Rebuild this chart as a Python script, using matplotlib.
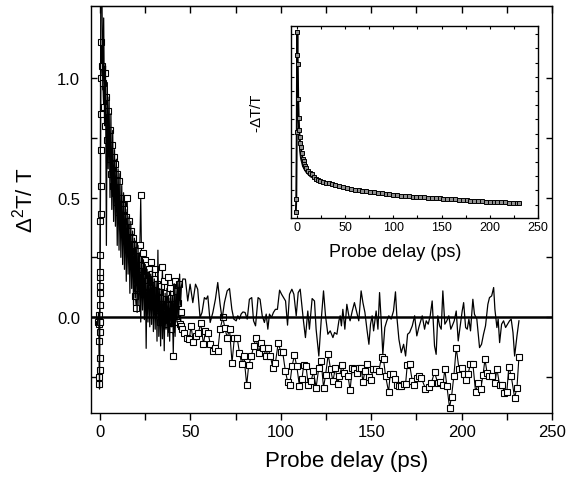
# Two-colour pump-probe trace: differential signal vs probe delay, with the
# single-colour -dT/T transient shown as an inset
import numpy as np
import matplotlib.pyplot as plt

plt.rcParams['font.family'] = ['Liberation Sans', 'DejaVu Sans']
plt.rcParams['mathtext.fontset'] = 'custom'
plt.rcParams['mathtext.rm'] = 'Liberation Sans'
plt.rcParams['mathtext.it'] = 'Liberation Sans'

# open squares series (delay in ps, signal)
sq_t = [-1.0, -0.8, -0.6, -0.5, -0.4, -0.35, -0.3, -0.25, -0.2, -0.15, -0.1, -0.05,
        0.0, 0.05, 0.1, 0.15, 0.2, 0.25, 0.3, 0.35, 0.4, 0.45,
        0.5, 1.0, 1.5, 2.0, 2.5, 3.0, 3.5, 4.0, 4.5, 5.0, 5.5, 6.0, 6.5, 7.0, 7.5,
        8.0, 8.5, 9.0, 9.5, 10.0, 10.5, 11.0, 11.5, 12.0, 12.5, 13.0, 13.5, 14.0,
        14.5, 15.0, 15.5, 16.0, 16.5, 17.0, 17.5, 18.0, 18.5, 19.0, 19.5, 20.0,
        20.5, 21.0, 21.5, 22.0, 22.5, 23.0, 23.5, 24.0, 24.5, 25.0, 25.5, 26.0,
        26.5, 27.0, 27.5, 28.0, 28.5, 29.0, 29.5, 30.0, 30.5, 31.0, 31.5, 32.0,
        32.5, 33.0, 33.5, 34.0, 34.5, 35.0, 35.5, 36.0, 36.5, 37.0, 37.5, 38.0,
        38.5, 39.0, 39.5, 40.0, 40.5, 41.0, 41.5, 42.0, 42.5, 43.0, 43.5, 44.0,
        44.5, 44.8, 45.4, 46.6, 47.9, 49.4, 50.3, 51.6, 53.1, 54.4, 55.7, 57.2,
        58.3, 59.7, 61.0, 62.3, 63.8, 65.1, 66.4, 67.9, 69.0, 70.3, 71.6, 73.0,
        74.3, 75.8, 77.1, 78.4, 79.6, 81.1, 82.2, 83.7, 85.0, 86.3, 87.8, 89.1,
        90.3, 91.8, 92.9, 94.2, 95.5, 97.0, 98.5, 100.1, 101.0, 102.5, 103.8,
        104.9, 106.2, 107.5, 108.8, 110.3, 111.7, 112.6, 113.9, 115.2, 116.8,
        118.0, 119.5, 121.0, 122.3, 123.6, 124.7, 126.2, 127.5, 128.8, 130.2,
        131.5, 132.4, 133.9, 135.0, 137.1, 138.3, 139.5, 140.7, 142.0, 143.1,
        144.4, 145.4, 146.5, 147.8, 148.7, 149.6, 151.1, 152.7, 154.2, 155.7,
        156.8, 157.9, 159.6, 160.5, 162.0, 163.1, 164.2, 165.3, 166.6, 167.9,
        169.0, 169.9, 171.2, 172.7, 173.9, 175.2, 176.3, 177.6, 180.0, 181.9,
        183.3, 185.0, 186.8, 188.1, 189.6, 190.7, 191.8, 193.3, 194.4, 195.7,
        197.0, 198.5, 200.0, 201.2, 202.5, 203.6, 204.7, 206.2, 207.7, 209.2,
        210.5, 211.8, 212.9, 214.1, 215.4, 216.9, 218.4, 219.5, 221.0, 222.5,
        223.6, 225.0, 226.1, 227.4, 229.3, 230.6, 231.7]
sq_v = [-0.02, 0.01, -0.03, -0.10, -0.25, -0.28, -0.22, -0.17, -0.06, -0.02, 0.05, 0.10,
        0.13, 0.17, 0.19, 0.26, 0.40, 0.43, 0.55, 0.70, 0.85, 1.00,
        1.15, 1.05, 0.98, 0.88, 1.02, 0.80, 0.92, 0.74, 0.86, 0.66, 0.78, 0.60, 0.72, 0.55, 0.67,
        0.52, 0.64, 0.48, 0.60, 0.44, 0.57, 0.42, 0.50, 0.38, 0.47, 0.36, 0.45, 0.33,
        0.42, 0.50, 0.30, 0.40, 0.27, 0.36, 0.25, 0.33, 0.22, 0.30, 0.09, 0.04,
        0.12, 0.28, 0.20, 0.30, 0.51, 0.22, 0.17, 0.27, 0.15, 0.24, 0.13, 0.22,
        0.10, 0.20, 0.12, 0.23, 0.08, 0.18, 0.05, 0.16, 0.20, 0.06, 0.14, 0.03,
        0.11, -0.02, 0.13, 0.08, 0.21, 0.02, 0.15, -0.03, 0.10, 0.05, 0.17, -0.01,
        0.12, -0.05, 0.08, 0.02, -0.16, 0.04, 0.15, 0.11, -0.02, 0.06, 0.14, -0.03,
        0.02, -0.036, -0.050, -0.064, -0.085, -0.092, -0.036, -0.103, -0.078, -0.064, -0.026, -0.113,
        -0.057, -0.064, -0.113, -0.141, -0.127, -0.141, -0.050, -0.001, -0.043, -0.085, -0.050, -0.190,
        -0.085, -0.085, -0.148, -0.197, -0.162, -0.284, -0.201, -0.162, -0.120, -0.085, -0.148, -0.106,
        -0.127, -0.162, -0.130, -0.162, -0.211, -0.190, -0.109, -0.145, -0.145, -0.225, -0.271,
        -0.283, -0.204, -0.159, -0.204, -0.288, -0.257, -0.201, -0.204, -0.284, -0.266,
        -0.225, -0.294, -0.211, -0.183, -0.294, -0.243, -0.155, -0.218, -0.266, -0.211,
        -0.280, -0.245, -0.201, -0.232, -0.245, -0.304, -0.212, -0.215, -0.234, -0.212,
        -0.212, -0.270, -0.225, -0.197, -0.250, -0.262, -0.215, -0.218, -0.225, -0.165,
        -0.176, -0.245, -0.312, -0.236, -0.238, -0.259, -0.284, -0.287, -0.287, -0.280,
        -0.278, -0.201, -0.197, -0.266, -0.284, -0.252, -0.245, -0.252, -0.298, -0.290,
        -0.273, -0.229, -0.276, -0.270, -0.284, -0.218, -0.287, -0.378, -0.332, -0.245,
        -0.127, -0.215, -0.211, -0.238, -0.262, -0.238, -0.197, -0.194, -0.312, -0.273,
        -0.301, -0.243, -0.176, -0.234, -0.245, -0.245, -0.276, -0.215, -0.284, -0.284,
        -0.315, -0.312, -0.206, -0.245, -0.336, -0.294, -0.165]

# solid line series
ln_t = [-1.0, -0.8, -0.6, -0.4, -0.3, -0.2, -0.1, 0.0, 0.1, 0.2, 0.3, 0.4, 0.5,
        1.0, 1.5, 2.0, 2.5, 3.0, 3.5, 4.0, 4.5, 5.0, 5.5, 6.0, 6.5, 7.0, 7.5, 8.0,
        8.5, 9.0, 9.5, 10.0, 10.5, 11.0, 11.5, 12.0, 12.5, 13.0, 13.5, 14.0, 14.5, 15.0,
        15.5, 16.0, 16.5, 17.0, 17.5, 18.0, 18.5, 19.0, 19.5, 20.0, 20.5, 21.0, 21.5,
        22.0, 22.5, 23.0, 23.5, 24.0, 24.5, 25.0, 25.5, 26.0, 26.5, 27.0, 27.5, 28.0,
        28.5, 29.0, 29.5, 30.0, 30.5, 31.0, 31.5, 32.0, 32.5, 33.0, 33.5, 34.0, 34.5,
        35.0, 35.5, 36.0, 36.5, 37.0, 37.5, 38.0, 38.5, 39.0, 39.5, 40.0, 40.5, 41.0,
        41.5, 42.0, 42.5, 43.0, 43.5, 44.0, 44.5, 45.0,
        45.8, 47.2, 48.5, 49.8, 51.3, 52.8, 54.0, 55.3, 56.4, 57.7, 58.7,
        59.6, 60.9, 62.4, 63.8, 65.1, 66.4, 67.5, 68.8, 70.3, 71.6, 72.9, 74.0,
        75.3, 76.2, 77.1, 78.0, 79.0, 80.2, 81.4, 82.6, 83.9, 84.9, 86.0, 87.4,
        88.5, 89.7, 90.9, 91.9, 92.8, 93.7, 94.8, 95.9, 97.0, 98.1, 99.3, 100.4,
        101.5, 102.6, 103.7, 104.8, 106.1, 107.2, 108.5, 109.6, 110.7, 112.5,
        113.6, 114.9, 115.8, 117.3, 118.6, 119.5, 121.0, 122.3, 123.6, 124.7,
        126.0, 127.3, 128.8, 129.7, 131.0, 132.1, 132.8, 133.5, 134.3, 135.4,
        136.5, 137.6, 138.3, 139.5, 140.7, 142.0, 143.1, 144.4, 145.4, 146.5,
        147.6, 148.7, 149.6, 150.5, 151.3, 152.7, 153.7, 154.6, 155.5, 156.4,
        157.5, 158.6, 159.7, 161.0, 162.3, 163.4, 164.2, 165.3, 166.6, 167.9,
        169.0, 170.1, 171.2, 172.7, 174.0, 175.2, 176.3, 178.2, 179.5, 180.4,
        181.5, 182.6, 183.7, 185.0, 185.9, 186.8, 187.8, 188.7, 189.6, 190.7,
        191.8, 192.9, 194.0, 194.8, 195.9, 197.0, 198.1, 199.2, 200.3, 201.1,
        202.2, 203.1, 204.0, 204.9, 206.2, 207.1, 208.4, 209.9, 211.0, 212.1,
        213.2, 214.5, 215.4, 216.6, 217.7, 218.4, 219.5, 220.2, 221.0, 222.1,
        223.2, 224.3, 225.4, 226.5, 227.4, 228.4, 229.3, 230.6, 231.7]
ln_v = [0.0, 0.02, -0.05, -0.18, -0.30, -0.12, 0.05, 0.25, 0.50, 0.80, 1.10, 1.35, 1.40,
        1.38, 0.95, 1.25, 0.80, 1.05, 0.30, 0.98, 0.62, 0.92, 0.50, 0.85, 0.45, 0.78, 0.40, 0.70,
        0.38, 0.66, 0.30, 0.62, 0.28, 0.60, 0.25, 0.55, 0.22, 0.52, 0.20, 0.48, 0.15, 0.45,
        0.18, 0.42, 0.10, 0.40, 0.12, 0.36, 0.05, 0.33, 0.08, 0.32, 0.02, 0.30, 0.05,
        0.27, -0.02, 0.25, 0.03, 0.24, -0.01, 0.22, -0.13, 0.20, -0.02, 0.19, -0.04, 0.18,
        -0.03, 0.20, -0.06, 0.16, -0.05, 0.15, -0.10, 0.28, -0.08, 0.12, -0.12, 0.14, -0.09,
        0.10, -0.14, 0.10, -0.05, 0.12, -0.08, 0.08, -0.10, 0.11, -0.04, 0.09, -0.07, 0.14,
        -0.08, 0.12, -0.02, 0.15, 0.00, 0.18, 0.05, 0.13,
        0.16, 0.159, 0.068, 0.138, 0.061, 0.138, 0.117, -0.001, 0.020, 0.082, 0.075,
        0.089, -0.022, 0.020, 0.075, 0.145, 0.054, -0.008, 0.061, 0.110, 0.120, 0.033, -0.008,
        -0.015, 0.006, -0.008, 0.013, 0.022, 0.020, -0.008, 0.075, 0.082, -0.015, -0.036, 0.082,
        0.075, 0.006, -0.022, 0.013, -0.050, 0.013, -0.001, 0.020, 0.033, 0.033, 0.113, 0.096,
        0.082, 0.068, -0.033, 0.096, 0.117, 0.096, 0.006, 0.103, 0.117, -0.015,
        -0.085, 0.026, -0.050, 0.078, 0.068, -0.050, -0.162, -0.015, 0.110, 0.006,
        -0.071, -0.057, -0.085, -0.064, -0.071, -0.015, 0.006, -0.036, 0.033, -0.050,
        0.054, 0.006, -0.015, 0.026, 0.061, 0.020, -0.015, 0.110, 0.061, 0.020,
        -0.050, -0.113, -0.029, 0.006, -0.057, 0.026, -0.050, 0.103, -0.015, -0.155,
        -0.043, -0.015, 0.006, -0.008, 0.026, 0.106, -0.001, -0.092, -0.148, -0.113,
        -0.162, -0.071, -0.064, -0.036, 0.006, -0.078, -0.043, 0.006, -0.050, -0.015,
        -0.029, 0.006, 0.068, -0.120, -0.155, 0.006, -0.036, -0.050, 0.110, -0.029,
        -0.015, 0.006, -0.050, -0.036, -0.015, 0.026, -0.099, -0.036, 0.026, 0.061,
        -0.043, -0.050, -0.008, -0.057, 0.075, 0.012, -0.008, -0.127, -0.113, -0.071,
        -0.036, 0.054, 0.082, 0.089, 0.124, 0.033, -0.043, -0.008, -0.106, -0.029,
        -0.015, -0.043, -0.029, -0.015, -0.008, -0.064, -0.162, -0.078, -0.015]

# inset: -dT/T transient (normalised) and the fit drawn beneath it
inset_t = [-1, -0.5, 0, 0.3, 0.6, 1.0, 1.5, 2, 2.5, 3, 3.5, 4, 5, 6, 7, 8, 9, 10,
           12, 14, 16, 18, 20, 22, 24, 27, 30, 33, 36, 40, 44, 48, 52, 56, 60,
           64, 68, 72, 76, 80, 84, 88, 92, 96, 100, 104, 108, 112, 116, 120,
           124, 128, 132, 136, 140, 144, 148, 152, 156, 160, 164, 168, 172, 176,
           180, 184, 188, 192, 196, 200, 204, 208, 212, 216, 220, 224, 228, 230]
inset_v = [0.03, 0.10, 0.45, 0.85, 0.97, 0.80, 0.62, 0.52, 0.46, 0.42, 0.39, 0.37,
           0.34, 0.31, 0.295, 0.28, 0.27, 0.26, 0.245, 0.235, 0.228, 0.215,
           0.205, 0.20, 0.195, 0.19, 0.185, 0.18, 0.175, 0.17, 0.166, 0.16,
           0.156, 0.153, 0.148, 0.145, 0.142, 0.139, 0.137, 0.134, 0.132, 0.129,
           0.126, 0.124, 0.121, 0.12, 0.117, 0.115, 0.113, 0.112, 0.111, 0.109,
           0.108, 0.106, 0.105, 0.103, 0.102, 0.101, 0.10, 0.099, 0.097, 0.096,
           0.094, 0.093, 0.09, 0.089, 0.088, 0.087, 0.086, 0.085, 0.084, 0.083,
           0.082, 0.081, 0.08, 0.079, 0.078, 0.078]
fit_t = [0.5, 1, 2, 3, 4, 6, 8, 10, 14, 20, 28, 40]
fit_v = [0.95, 0.70, 0.45, 0.35, 0.31, 0.27, 0.25, 0.235, 0.215, 0.20, 0.185, 0.17]

fig = plt.figure(figsize=(5.71, 4.89), dpi=100)
ax = fig.add_axes([0.1594, 0.1534, 0.8074, 0.8323])

ax.plot(sq_t, sq_v, color='black', lw=0.8, marker='s', ms=4.2, mfc='white',
        mec='black', mew=0.8, zorder=2)
ax.plot(ln_t, ln_v, color='black', lw=0.9, zorder=3)
ax.axhline(0, color='black', lw=1.8, zorder=4)

ax.set_xlim(-5, 250)
ax.set_ylim(-0.40, 1.30)
ax.set_xticks([0, 50, 100, 150, 200, 250])
ax.set_xticks([25, 75, 125, 175, 225], minor=True)
ax.set_yticks([0.0, 0.5, 1.0])
ax.set_yticklabels(['0.0', '0.5', '1.0'])
ax.set_yticks([-0.25, 0.25, 0.75], minor=True)
ax.tick_params(axis='x', which='both', direction='out', length=5, width=1,
               labelsize=12, pad=3, top=False)
ax.tick_params(axis='y', which='both', direction='in', length=4, width=1,
               labelsize=12, pad=8, right=True)
top = ax.secondary_xaxis('top')
top.set_xticks([0, 25, 50, 75, 100, 125, 150, 175, 200, 225, 250])
top.tick_params(direction='in', length=5, width=1, labeltop=False)
for s in ax.spines.values():
    s.set_linewidth(1)

ax.set_xlabel('Probe delay (ps)', fontsize=16)
ax.xaxis.set_label_coords(0.555, -0.09)
ax.set_ylabel(r'$\mathregular{\Delta^2T/\ T}$', fontsize=16)
ax.yaxis.set_label_coords(-0.115, 0.526)

# inset
ins = fig.add_axes([0.5096, 0.5521, 0.4326, 0.3926])
ins.plot(fit_t, fit_v, color='black', lw=0.8, zorder=2)
ins.plot(inset_t, inset_v, color='black', lw=1.4, marker='s', ms=3.0,
         mfc='#909090', mec='black', mew=0.7, zorder=3)
ins.set_xlim(-6, 250)
ins.set_ylim(0, 1.0)
ins.set_xticks([0, 50, 100, 150, 200, 250])
ins.set_xticks([25, 75, 125, 175, 225], minor=True)
ins.set_yticks(np.arange(0.07, 1.0, 0.074))
ins.set_yticklabels([])
ins.tick_params(which='both', direction='in', length=2.5, width=0.8,
                labelsize=9, pad=2, top=True, right=True)
ins.set_xlabel('Probe delay (ps)', fontsize=13)
ins.xaxis.set_label_coords(0.42, -0.13)
ins.set_ylabel(r'-$\mathregular{\Delta}$T/T', fontsize=11)
ins.yaxis.set_label_coords(-0.11, 0.55)
for s in ins.spines.values():
    s.set_linewidth(1)

fig.savefig('out.png', dpi=100)
